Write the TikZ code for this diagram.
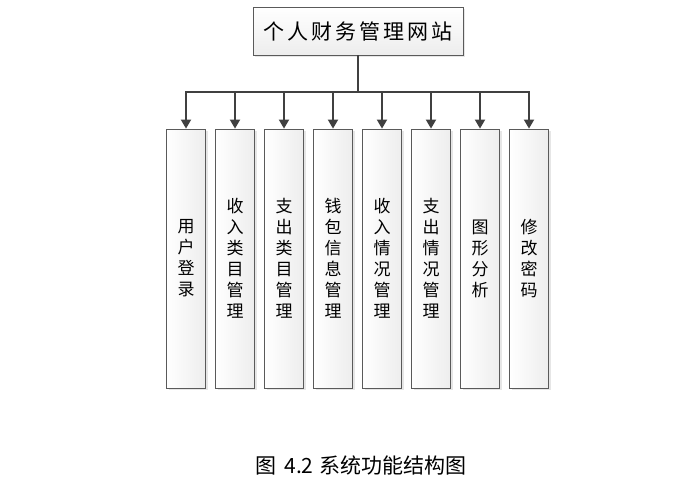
\documentclass[tikz,border=0pt]{standalone}
\usepackage{fontspec}
\usepackage{tikz}
\usetikzlibrary{arrows.meta,shadows}

\newfontfamily\cjk{Noto Sans CJK SC}
\newfontfamily\cjktitle[LetterSpace=14]{Noto Sans CJK SC}
\definecolor{linegray}{RGB}{64,64,64}
\definecolor{boxedge}{RGB}{90,90,90}

\tikzset{
	sitebox/.style={draw=boxedge,line width=0.8pt,top color=white,bottom color=gray!14,
		minimum width=210pt,minimum height=48pt,inner sep=0pt,
		drop shadow={shadow xshift=2pt,shadow yshift=-2pt,opacity=0.2},
		font=\cjktitle\fontsize{21}{24}\selectfont},
	funcbox/.style={draw=boxedge,line width=0.8pt,left color=white,right color=gray!14,
		minimum width=39pt,minimum height=259pt,inner sep=0pt,align=center,
		drop shadow={shadow xshift=2pt,shadow yshift=-2pt,opacity=0.2},
		font=\cjk\fontsize{17}{21}\selectfont},
	trunk/.style={linegray,line width=1.8pt},
	link/.style={linegray,line width=1.8pt,-{Triangle[length=9pt,width=10pt]}}
}

\begin{document}
\begin{tikzpicture}[x=1pt,y=-1pt]
	\useasboundingbox (0,0) rectangle (699,501);
	\node [sitebox] (site) at (358,31) {个人财务管理网站};
	\coordinate (bus) at (358,92);
	\draw [trunk] (site.south)--(bus);
	\foreach \name [count=\i] in {{用\\户\\登\\录},{收\\入\\类\\目\\管\\理},{支\\出\\类\\目\\管\\理},
		{钱\\包\\信\\息\\管\\理},{收\\入\\情\\况\\管\\理},{支\\出\\情\\况\\管\\理},
		{图\\形\\分\\析},{修\\改\\密\\码}}
	{
		\node [funcbox] (f\i) at ({137+49*\i},258.5) {\name};
		\draw [link] (bus) -| (f\i.north);
	}
	\node [font=\cjk\fontsize{21}{24}\selectfont] (cap) at (361,465) {图\hspace{8pt}4.2\hspace{6pt}系统功能结构图};
\end{tikzpicture}
\end{document}
